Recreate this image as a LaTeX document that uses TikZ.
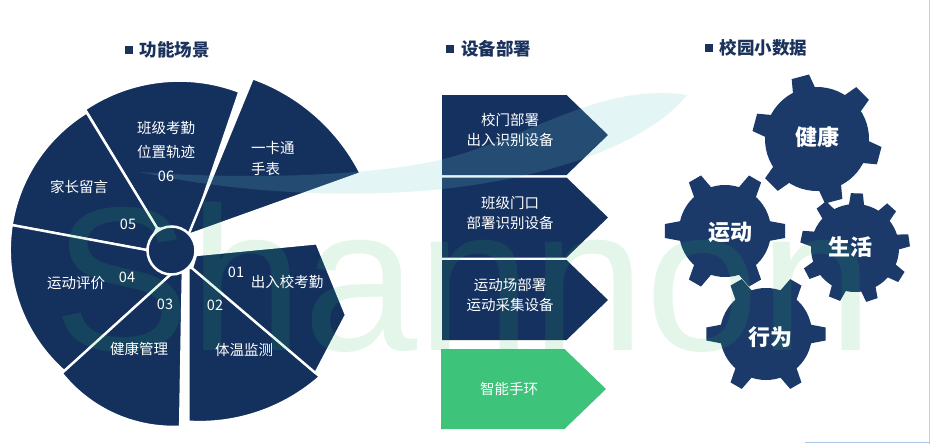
\documentclass[tikz,border=0pt]{standalone}
\usepackage{fontspec}
\setmainfont{Noto Sans CJK SC}
\newfontfamily\wmfont{Liberation Sans}
\usetikzlibrary{calc}
\definecolor{navy}{RGB}{20,49,94}
\definecolor{gearblue}{RGB}{27,58,106}
\definecolor{arrowblue}{RGB}{21,49,95}
\definecolor{mint}{RGB}{61,195,122}
\definecolor{titleblue}{RGB}{26,50,92}
\definecolor{wmgreen}{RGB}{40,190,90}
\definecolor{swooshc}{RGB}{110,200,205}
\definecolor{edgegray}{RGB}{205,205,205}
\definecolor{edgeblue}{RGB}{170,200,230}
\tikzset{
  pie/.style={fill=navy, draw=white, line width=2.4pt, line join=round},
  gearfill/.style={fill=gearblue},
  arrowshape/.style={fill=arrowblue},
  lbl/.style={text=white, inner sep=0pt, align=center, font=\fontsize{14.5}{24}\selectfont},
  arrowlbl/.style={text=white, inner sep=0pt, align=center, font=\fontsize{14.5}{20}\selectfont},
  gearlbl/.style={text=white, inner sep=0pt, font=\bfseries\fontsize{22}{24}\selectfont},
  titlelbl/.style={text=titleblue, inner sep=0pt, anchor=west, font=\bfseries\fontsize{17.5}{20}\selectfont},
  marker/.style={fill=titleblue},
}
\newcommand\drawgear[8]{%
  \fill[gearfill] (#1,#2) circle[radius=#3];
  \foreach \k in {1,...,#5}{
    \pgfmathsetmacro\ang{#6+360/#5*\k}
    \pgfmathsetmacro\da{deg(#7/(#3-3))}
    \pgfmathsetmacro\db{deg(#8/#4)}
    \fill[gearfill] ($(#1,#2)+({\ang-\da}:{#3-3})$) -- ($(#1,#2)+({\ang-\db}:#4)$)
      -- ($(#1,#2)+({\ang+\db}:#4)$) -- ($(#1,#2)+({\ang+\da}:{#3-3})$) -- cycle;
  }
}
\begin{document}
\begin{tikzpicture}[x=1pt,y=-1pt]
\useasboundingbox (0,0) rectangle (934,444);
\fill[white] (0,0) rectangle (934,444);

% ---------- pie ----------
\filldraw[pie] (157,228) -- (85,109.3) arc[start angle=236.1, end angle=290.9, radius=168.8] -- (190.7,235) -- cycle;
\filldraw[pie] (146.7,250) -- (11.7,225) arc[start angle=188.9, end angle=238.4, radius=161.5] -- (157,228) -- cycle;
\filldraw[pie] (146.7,250) -- (11.7,225) arc[start angle=188.9, end angle=131.6, radius=162] -- (172,273.3) -- cycle;
\filldraw[pie] (172,273.3) -- (61.7,373.3) arc[start angle=141.35, end angle=87.2, radius=142.7] -- (182.9,268) -- cycle;
\filldraw[pie] (192,268) -- (188.3,268) -- (188.3,421.7) arc[start angle=93.6, end angle=48.65, radius=182] -- cycle;
\filldraw[pie] (196,255) -- (316.7,243.3) -- (346,315) -- (315.5,373) -- (192,268) -- cycle;
\filldraw[pie] (188.3,235) -- (252.7,78.3) arc[start angle=-70.35, end angle=-26.96, radius=194.5] -- cycle;
\filldraw[fill=navy, draw=white, line width=2.5pt] (171.5,250.5) circle[radius=24];

% ---------- arrows ----------
\fill[arrowshape] (442,95) -- (566.5,95) -- (608,135) -- (566.5,175) -- (442,175) -- cycle;
\fill[arrowshape] (442,177.5) -- (566.5,177.5) -- (608,217.5) -- (566.5,257.5) -- (442,257.5) -- cycle;
\fill[arrowshape] (442,260) -- (566.5,260) -- (608,300) -- (566.5,340) -- (442,340) -- cycle;
\fill[fill=mint] (441,349) -- (564.5,349) -- (606,389) -- (564.5,429) -- (441,429) -- cycle;

% ---------- gears ----------
\drawgear{817}{139}{52}{65}{6}{15}{12}{9}
\drawgear{725}{231}{46}{60.5}{6}{0}{10.5}{7}
\drawgear{855}{248}{44}{55}{9}{32}{8}{6}
\drawgear{766}{334}{46}{60}{6}{0}{10}{6.5}

% ---------- background decorations ----------
\fill[swooshc, fill opacity=0.18] (140,172) .. controls (250,180) and (370,176) .. (440,160)
  .. controls (530,138) and (600,82) .. (687,95)
  .. controls (655,135) and (580,168) .. (480,184)
  .. controls (380,200) and (250,196) .. (140,172) -- cycle;
\node[anchor=base west, inner sep=0pt, text=wmgreen, text opacity=0.13,
  font=\wmfont\fontsize{205}{205}\selectfont] (wm) at (53,350) {Shannon};
\draw[edgegray, line width=1.5pt] (929.5,0) -- (929.5,444);
\draw[edgeblue, line width=1.2pt] (805,442.8) -- (930,442.8);

% ---------- titles ----------
\fill[marker] (125,46.5) rectangle (133,54.5);
\node[titlelbl] (t1) at (139.5,50) {功能场景};
\fill[marker] (446,45.5) rectangle (453.5,53.5);
\node[titlelbl] (t2) at (461,49) {设备部署};
\fill[marker] (705,44.5) rectangle (712.5,52.5);
\node[titlelbl] (t3) at (719.5,48) {校园小数据};

% ---------- pie labels ----------
\node[lbl] (l06) at (166,151) {班级考勤\\位置轨迹\\06};
\node[lbl, align=left, anchor=west, font=\fontsize{14.5}{21}\selectfont] (l07) at (251,158) {一卡通\\手表};
\node[lbl] (l05a) at (79,187) {家长留言};
\node[lbl] (l05) at (128,224) {05};
\node[lbl] (l04a) at (76,283) {运动评价};
\node[lbl] (l04) at (127,277) {04};
\node[lbl] (l03) at (165,304) {03};
\node[lbl] (l03a) at (139,349) {健康管理};
\node[lbl] (l02) at (215,305) {02};
\node[lbl] (l02a) at (244,350) {体温监测};
\node[lbl] (l01) at (236,272) {01};
\node[lbl] (l01a) at (287,282) {出入校考勤};

% ---------- arrow labels ----------
\node[arrowlbl] (a1) at (510,130) {校门部署\\出入识别设备};
\node[arrowlbl] (a2) at (510,213) {班级门口\\部署识别设备};
\node[arrowlbl] (a3) at (510,295) {运动场部署\\运动采集设备};
\node[arrowlbl] (a4) at (509,389) {智能手环};

% ---------- gear labels ----------
\node[gearlbl] (g1) at (817.5,137) {健康};
\node[gearlbl] (g2) at (730.5,233) {运动};
\node[gearlbl] (g3) at (850,247) {生活};
\node[gearlbl] (g4) at (770,337) {行为};
\end{tikzpicture}
\end{document}
